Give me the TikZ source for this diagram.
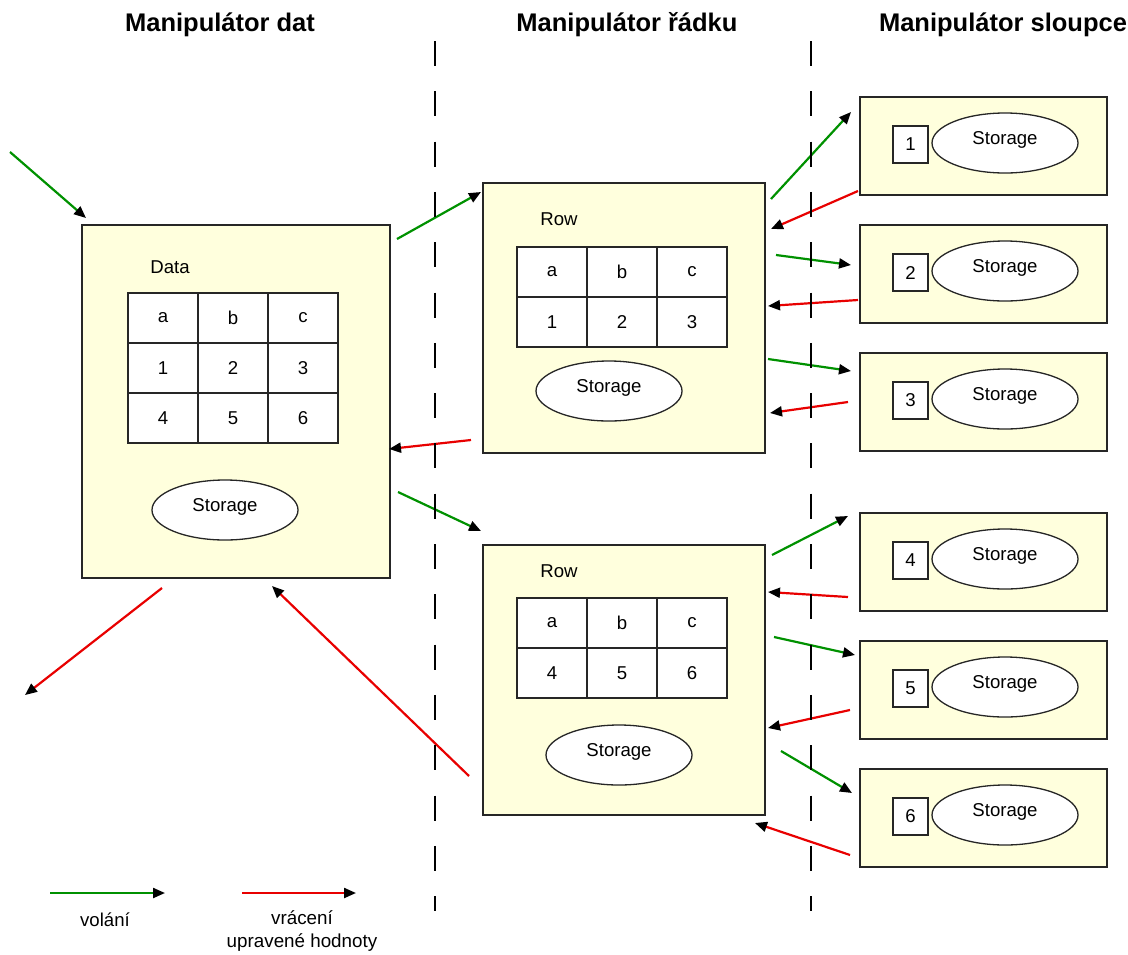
\documentclass[tikz,border=0pt]{standalone}
\usepackage{fontspec}
\setmainfont{Liberation Sans}
\usetikzlibrary{arrows.meta,shapes.geometric}
\definecolor{boxfill}{RGB}{255,255,221}
\definecolor{callg}{RGB}{0,145,0}
\definecolor{retr}{RGB}{232,0,0}
\begin{document}
\begin{tikzpicture}[x=1pt,y=-1pt,font=\fontsize{18.6}{22}\selectfont,
  box/.style={draw=black!85,line width=1.3pt,fill=boxfill,inner sep=0pt},
  cell/.style={draw=black!85,line width=1.3pt,fill=white,minimum width=70pt,minimum height=50pt,inner sep=0pt},
  stor/.style={ellipse,draw=black!85,line width=1.3pt,fill=white,minimum width=146pt,minimum height=60pt,inner sep=0pt},
  num/.style={draw=black!85,line width=1.3pt,fill=white,minimum width=35pt,minimum height=37pt,inner sep=0pt},
  call/.style={draw=callg,line width=2.2pt,-{Triangle[length=12pt,width=10pt,color=black]}},
  ret/.style={draw=retr,line width=2.2pt,-{Triangle[length=12pt,width=10pt,color=black]}},
  title/.style={font=\fontsize{25.5}{30}\selectfont\bfseries},
  sep/.style={line width=2.8pt,dash pattern=on 25pt off 25.3pt}]
\useasboundingbox (0,0) rectangle (1128,954);

% titles
\node[title] (t1) at (220,25) {Manipulátor dat};
\node[title] (t2) at (627,25) {Manipulátor řádku};
\node[title] (t3) at (1003,25) {Manipulátor sloupce};

% Data box
\node[box,minimum width=308pt,minimum height=353pt] (data) at (236,401.5) {};
\node (datalbl) at (170,267) {Data};
\foreach \t [count=\i] in {a,b,c}{\node[cell] (dc1\i) at (93+70*\i,318) {\t};}
\foreach \t [count=\i] in {1,2,3}{\node[cell] (dc2\i) at (93+70*\i,368) {\t};}
\foreach \t [count=\i] in {4,5,6}{\node[cell] (dc3\i) at (93+70*\i,418) {\t};}
\node[stor] (ds) at (225,510) {};
\node (dst) at ([yshift=3pt]ds.center) {Storage};

% Row boxes
\node[box,minimum width=282pt,minimum height=270pt] (row1) at (624,318) {};
\node (r1lbl) at (559,219) {Row};
\foreach \t [count=\i] in {a,b,c}{\node[cell] (r1a\i) at (482+70*\i,272) {\t};}
\foreach \t [count=\i] in {1,2,3}{\node[cell] (r1b\i) at (482+70*\i,322) {\t};}
\node[stor] (r1s) at (609,391) {};
\node (r1st) at ([yshift=3pt]r1s.center) {Storage};

\node[box,minimum width=282pt,minimum height=270pt] (row2) at (624,680) {};
\node (r2lbl) at (559,571) {Row};
\foreach \t [count=\i] in {a,b,c}{\node[cell] (r2a\i) at (482+70*\i,623) {\t};}
\foreach \t [count=\i] in {4,5,6}{\node[cell] (r2b\i) at (482+70*\i,673) {\t};}
\node[stor] (r2s) at (619,755) {};
\node (r2st) at ([yshift=3pt]r2s.center) {Storage};

% Column boxes
\foreach \n/\top in {1/97,2/225,3/353,4/513,5/641,6/769}{
  \node[box,minimum width=247pt,minimum height=98pt] (col\n) at (983.5,\top+49) {};
  \node[num] (num\n) at (910.5,\top+47.5) {\n};
  \node[stor] (cs\n) at (1005,\top+46) {};
  \node (cst\n) at ([yshift=3pt]cs\n.center) {Storage};
}

% arrow end points
\coordinate (in0) at (10,152);   \coordinate (in1) at (86,218);
\coordinate (a1) at (397,239);   \coordinate (a2) at (481,192);
\coordinate (b1) at (471,440);   \coordinate (b2) at (389,449);
\coordinate (c1) at (398,492);   \coordinate (c2) at (481,531);
\coordinate (e1) at (469,776);   \coordinate (e2) at (272,586);
\coordinate (o1) at (162,588);   \coordinate (o2) at (25,695);
% row1 <-> columns
\coordinate (p1) at (771,199);   \coordinate (p2) at (851,112);
\coordinate (q1) at (858,191);   \coordinate (q2) at (771,229);
\coordinate (p3) at (776,255);   \coordinate (p4) at (851,265);
\coordinate (q3) at (858,300);   \coordinate (q4) at (768,306);
\coordinate (p5) at (768,359);   \coordinate (p6) at (851,371);
\coordinate (q5) at (848,402);   \coordinate (q6) at (770,413);
% row2 <-> columns
\coordinate (p7) at (772,555);   \coordinate (p8) at (848,516);
\coordinate (q7) at (848,597);   \coordinate (q8) at (768,592);
\coordinate (p9) at (774,637);   \coordinate (p10) at (855,655);
\coordinate (q9) at (850,710);   \coordinate (q10) at (768,728);
\coordinate (p11) at (781,751);  \coordinate (p12) at (852,793);
\coordinate (q11) at (850,855);  \coordinate (q12) at (755,823);

\draw[call] (in0) -- (in1);
\draw[call] (a1) -- (a2);
\draw[ret] (b1) -- (b2);
\draw[call] (c1) -- (c2);
\draw[ret] (e1) -- (e2);
\draw[ret] (o1) -- (o2);
\draw[call] (p1) -- (p2);
\draw[ret] (q1) -- (q2);
\draw[call] (p3) -- (p4);
\draw[ret] (q3) -- (q4);
\draw[call] (p5) -- (p6);
\draw[ret] (q5) -- (q6);
\draw[call] (p7) -- (p8);
\draw[ret] (q7) -- (q8);
\draw[call] (p9) -- (p10);
\draw[ret] (q9) -- (q10);
\draw[call] (p11) -- (p12);
\draw[ret] (q11) -- (q12);

% separators
\coordinate (d1t) at (435,41); \coordinate (d1b) at (435,911);
\coordinate (d2t) at (811,41); \coordinate (d2b) at (811,911);
\draw[sep] (d1t) -- (d1b);
\draw[sep] (d2t) -- (d2b);

% legend
\coordinate (lg1) at (50,893);  \coordinate (lg2) at (165,893);
\coordinate (lr1) at (242,893); \coordinate (lr2) at (356,893);
\draw[call] (lg1) -- (lg2);
\draw[ret] (lr1) -- (lr2);
\node (lgt) at (105,920) {volání};
\node[align=center,font=\fontsize{18.8}{23}\selectfont] (lrt) at (302,931) {vrácení\\upravené hodnoty};
\end{tikzpicture}
\end{document}
